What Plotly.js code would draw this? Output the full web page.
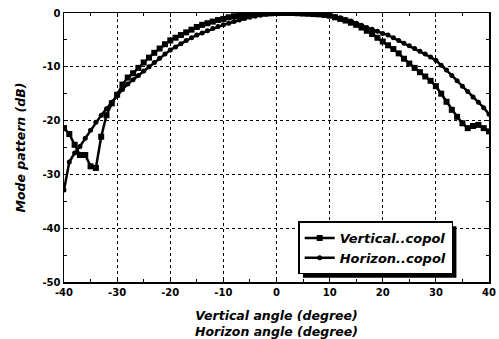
<!DOCTYPE html>
<html>
<head>
<meta charset="utf-8">
<script src="https://cdn.plot.ly/plotly-3.0.1.min.js"></script>
<style>html,body{margin:0;padding:0;background:#fff;}#chart{width:499px;height:339px;}</style>
</head>
<body>
<div id="chart"></div>
<script>
const angles = [-40,-39,-38,-37,-36,-35,-34,-33,-32,-31,-30,-29,-28,-27,-26,-25,-24,-23,-22,-21,-20,-19,-18,-17,-16,-15,-14,-13,-12,-11,-10,-9,-8,-7,-6,-5,-4,-3,-2,-1,0,1,2,3,4,5,6,7,8,9,10,11,12,13,14,15,16,17,18,19,20,21,22,23,24,25,26,27,28,29,30,31,32,33,34,35,36,37,38,39,40];
const verticalCopol = [-21.4,-22.5,-24.5,-26.4,-26.4,-28.5,-28.8,-23,-19,-16.8,-15.2,-13.3,-12,-11.2,-10.2,-9.2,-8.3,-7.4,-6.6,-5.8,-5.1,-4.6,-4.1,-3.6,-3.1,-2.6,-2.2,-1.9,-1.6,-1.3,-1.1,-0.8,-0.6,-0.5,-0.4,-0.3,-0.2,-0.15,-0.1,-0.05,0,0,0,0,-0.05,-0.1,-0.15,-0.2,-0.25,-0.35,-0.5,-0.8,-1.1,-1.4,-1.8,-2.2,-2.7,-3.3,-3.9,-4.6,-5.3,-6.0,-6.7,-7.5,-8.5,-9.4,-10.2,-11.0,-11.8,-12.6,-13.6,-15.0,-16.5,-18.0,-19.3,-20.5,-21.4,-21.0,-20.8,-21.4,-22];
const horizonCopol = [-32.9,-27.7,-26,-24.8,-23.3,-21.8,-20.3,-19,-17.8,-16.6,-15.3,-14.2,-13.2,-12.4,-11.6,-10.8,-10,-9.2,-8.4,-7.6,-6.9,-6.3,-5.7,-5.1,-4.6,-4.1,-3.7,-3.3,-2.9,-2.5,-2.2,-1.9,-1.6,-1.3,-1.0,-0.8,-0.6,-0.4,-0.25,-0.15,-0.05,0,0,0,0,-0.05,-0.1,-0.15,-0.2,-0.3,-0.45,-0.65,-0.9,-1.2,-1.5,-1.9,-2.3,-2.7,-3.0,-3.4,-3.8,-4.1,-4.6,-5.1,-5.6,-6.1,-6.6,-7.1,-7.6,-8.2,-8.8,-9.7,-10.6,-11.6,-12.6,-13.6,-14.6,-15.6,-16.6,-17.6,-18.8];
const xTicks = [-40,-30,-20,-10,0,10,20,30,40];
const yTicks = [0,-10,-20,-30,-40,-50];
const seriesNames = ['Vertical..copol','Horizon..copol'];

const FAM = 'DejaVu Sans, Liberation Sans, Arial, sans-serif';
const tickFont = {family:FAM, size:10, color:'#000', weight:'bold'};
const titleFont = {family:FAM, size:12.5, color:'#000', weight:'bold', style:'italic'};
const legendFont = {family:FAM, size:13, color:'#000', weight:'bold', style:'italic'};

const traces = [
  {x: angles, y: verticalCopol, name: seriesNames[0], type:'scatter', mode:'lines+markers',
   line:{color:'#000', width:2.5}, marker:{symbol:'square', size:6, color:'#000'}},
  {x: angles, y: horizonCopol, name: seriesNames[1], type:'scatter', mode:'lines+markers',
   line:{color:'#000', width:2.5}, marker:{symbol:'circle', size:5, color:'#000'}}
];

const minorTicks = {ticks:'inside', ticklen:3, tickcolor:'#000', showgrid:false, dtick:5};
const axisCommon = {
  showline:true, linecolor:'#000', linewidth:1.5, mirror:'ticks',
  ticks:'inside', ticklen:4, tickcolor:'#000', tickwidth:1,
  showgrid:true, gridcolor:'#000', gridwidth:1, griddash:'3px,3px',
  zeroline:false, tickfont: tickFont
};

const M = {l:64, r:10, t:13, b:57};
const layout = {
  width:499, height:339,
  margin:M,
  paper_bgcolor:'#fff', plot_bgcolor:'#fff',
  showlegend:true,
  legend:{x:0.551, y:0.225, xanchor:'left', yanchor:'top', bgcolor:'#fff',
          bordercolor:'#000', borderwidth:1.5, font: legendFont, tracegroupgap:0},
  xaxis: Object.assign({}, axisCommon, {
    range:[-40,40], tickvals:xTicks, ticktext:xTicks.map(String), minor: minorTicks,
    title:{text:'Vertical angle (degree)<br>Horizon angle (degree)', font: titleFont, standoff:14}
  }),
  yaxis: Object.assign({}, axisCommon, {
    range:[-50,0], tickvals:yTicks, ticktext:yTicks.map(String), minor: minorTicks,
    title:{text:'Mode pattern (dB)', font: titleFont, standoff:14}
  })
};

Plotly.newPlot('chart', traces, layout, {staticPlot:true, displayModeBar:false}).then(function(gd){
  // legend drop shadow (decoration only), measured from the rendered legend box
  const bg = gd.querySelector('.legend .bg');
  if (!bg) return;
  const lb = bg.getBoundingClientRect();
  const cb = gd.getBoundingClientRect();
  const pw = 499 - M.l - M.r, ph = 339 - M.t - M.b;
  const off = 4;
  const x0 = (lb.left - cb.left - M.l + off) / pw;
  const x1 = (lb.right - cb.left - M.l + off) / pw;
  const y0 = 1 - (lb.bottom - cb.top - M.t + off) / ph;
  const y1 = 1 - (lb.top - cb.top - M.t + off) / ph;
  return Plotly.relayout(gd, {shapes:[{type:'rect', xref:'paper', yref:'paper', x0:x0, x1:x1, y0:y0, y1:y1,
    fillcolor:'#000', line:{width:0}, layer:'above'}]});
});
</script>
</body>
</html>
